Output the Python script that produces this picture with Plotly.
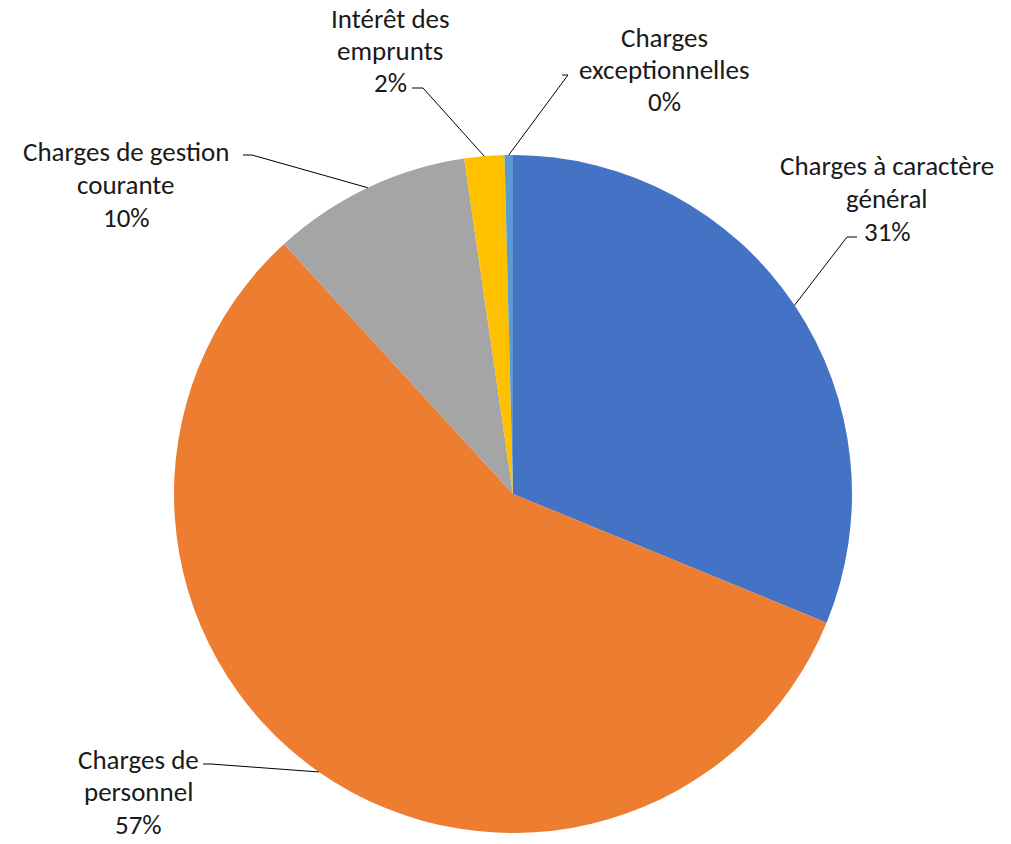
import math
import plotly.graph_objects as go

# ---- data ----
categories = ["Charges à caractère général", "Charges de personnel",
              "Charges de gestion courante", "Intérêt des emprunts",
              "Charges exceptionnelles"]
values = [31.2, 57.0, 9.5, 1.9, 0.4]
label_lines = [["Charges à caractère", "général", "31%"],
               ["Charges de", "personnel", "57%"],
               ["Charges de gestion", "courante", "10%"],
               ["Intérêt des", "emprunts", "2%"],
               ["Charges", "exceptionnelles", "0%"]]
colors = ["#4472C4", "#ED7D31", "#A5A5A5", "#FFC000", "#5B9BD5"]

# ---- layout (pixels) ----
W, H = 1011, 844
CX, CY, R = 513, 494, 339
# label block: center x, first line center y
label_pos = [(887, 166), (138, 759), (126, 152), (390, 18), (664, 37)]
# leader elbow (x, y) and horizontal end x
elbows = [((847, 237), 857), ((211, 764), 203), ((252, 155), 243),
          ((423, 88), 412), ((568, 75), 562)]
PITCH = 32.5
FONT = "Carlito, Lato, sans-serif"
FS = 27
TXT = "#1a1a1a"


def px(x):
    return x / W


def py(y):
    return 1 - y / H


fig = go.Figure(go.Pie(
    labels=categories, values=values, sort=False, direction="clockwise",
    rotation=0, marker=dict(colors=colors, line=dict(width=0)),
    textinfo="none", hoverinfo="label+percent", showlegend=False,
    domain=dict(x=[(CX - R) / W, (CX + R) / W], y=[1 - (CY + R) / H, 1 - (CY - R) / H]),
))

total = sum(values)
cum = 0
annotations = []
shapes = []
for i, v in enumerate(values):
    mid = (cum + v / 2) / total * 2 * math.pi
    cum += v
    ex = CX + R * math.sin(mid)
    ey = CY - R * math.cos(mid)
    (bx, by), hx = elbows[i]
    path = f"M {px(ex)},{py(ey)} L {px(bx)},{py(by)} L {px(hx)},{py(by)}"
    shapes.append(dict(type="path", xref="paper", yref="paper", path=path,
                       line=dict(color="#000000", width=1)))
    lx, ly = label_pos[i]
    for j, t in enumerate(label_lines[i]):
        annotations.append(dict(
            x=px(lx), y=py(ly + j * PITCH), xref="paper", yref="paper",
            text=t, showarrow=False, xanchor="center", yanchor="middle",
            font=dict(family=FONT, size=FS, color=TXT)))

fig.update_layout(
    width=W, height=H, margin=dict(l=0, r=0, t=0, b=0),
    paper_bgcolor="white", plot_bgcolor="white",
    annotations=annotations, shapes=shapes,
)
fig.write_html("out.html", config={"displayModeBar": False},
               post_script="document.body.style.margin='0px';")
